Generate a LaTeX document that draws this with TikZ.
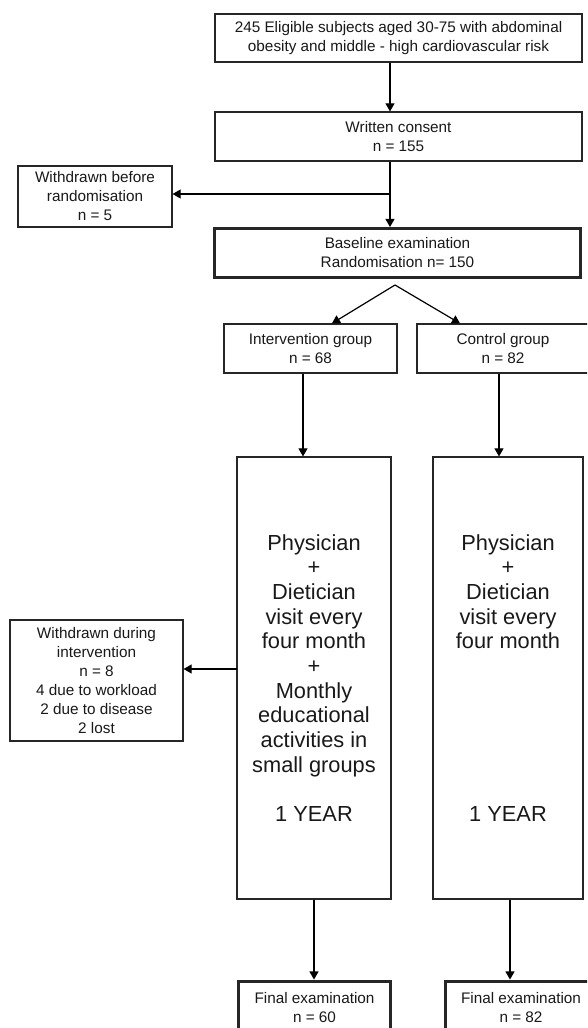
\documentclass[tikz,border=0pt]{standalone}
\usepackage{fontspec}
\setmainfont{Liberation Sans}
\usetikzlibrary{arrows,positioning,calc}

\begin{document}
\begin{tikzpicture}[->, >=triangle 60, x=1pt, y=-1pt, line width=1.2pt]
\tikzstyle{box}=[rectangle,draw=black!85,fill=white,align=center,inner sep=0pt,text=black!90,font=\fontsize{15.3}{19}\selectfont]
\tikzstyle{bold box}=[box,line width=3pt]
\tikzstyle{arm box}=[box,font=\fontsize{21.8}{24.7}\selectfont]
\useasboundingbox (0,0) rectangle (587,1028);
\clip (0,0) rectangle (587,1028);

\node[box,minimum width=367pt,minimum height=48pt] (elig) at (398.5,38)
  {245 Eligible subjects aged 30-75 with abdominal\\obesity and middle - high cardiovascular risk};
\node[box,minimum width=367pt,minimum height=49pt] (consent) at (398.5,136.5)
  {Written consent\\n = 155};
\node[box,minimum width=154pt,minimum height=61pt] (before) at (95,196.5)
  {Withdrawn before\\randomisation\\n = 5};
\node[bold box,minimum width=366pt,minimum height=49pt] (baseline) at (397.5,253)
  {Baseline examination\\Randomisation n= 150};
\node[box,minimum width=173pt,minimum height=49pt] (interv) at (310.5,348.5)
  {Intervention group\\n = 68};
\node[box,minimum width=172pt,minimum height=49pt] (control) at (503,348.5)
  {Control group\\n = 82};
\node[arm box,minimum width=154pt,minimum height=442pt] (ivarm) at (314,678)
  {Physician\\+\\Dietician\\visit every\\four month\\+\\Monthly\\educational\\activities in\\small groups\\~\\1 YEAR};
\node[arm box,minimum width=150pt,minimum height=442pt] (ctarm) at (508,678)
  {Physician\\+\\Dietician\\visit every\\four month\\~\\~\\~\\~\\~\\~\\1 YEAR};
\node[box,minimum width=173pt,minimum height=121pt] (during) at (96.5,680.5)
  {Withdrawn during\\intervention\\n = 8\\4 due to workload\\2 due to disease\\2 lost};
\node[bold box,minimum width=152pt,minimum height=54pt] (ivfinal) at (314.5,1008)
  {Final examination\\n = 60};
\node[bold box,minimum width=152pt,minimum height=54pt] (ctfinal) at (521,1008)
  {Final examination\\n = 82};

% branch points
\coordinate (spine) at (390,194);
\coordinate (split) at (395,285);
\coordinate (drop) at (237,669);

\path
 (elig.south -| spine) edge (consent.north -| spine)
 (consent.south -| spine) edge (baseline.north -| spine)
 (spine) edge (before.east |- spine)

 (split) edge ([xshift=21.5pt]interv.north)
         edge ([xshift=-43pt]control.north)

 ([xshift=-7.5pt]interv.south) edge ([xshift=-7.5pt]interv.south |- ivarm.north)
 ([xshift=-4pt]control.south) edge ([xshift=-4pt]control.south |- ctarm.north)

 (drop) edge (during.east |- drop)

 (ivarm.south) edge (ivarm.south |- ivfinal.north)
 ([xshift=2pt]ctarm.south) edge ([xshift=2pt]ctarm.south |- ctfinal.north);
\end{tikzpicture}
\end{document}
